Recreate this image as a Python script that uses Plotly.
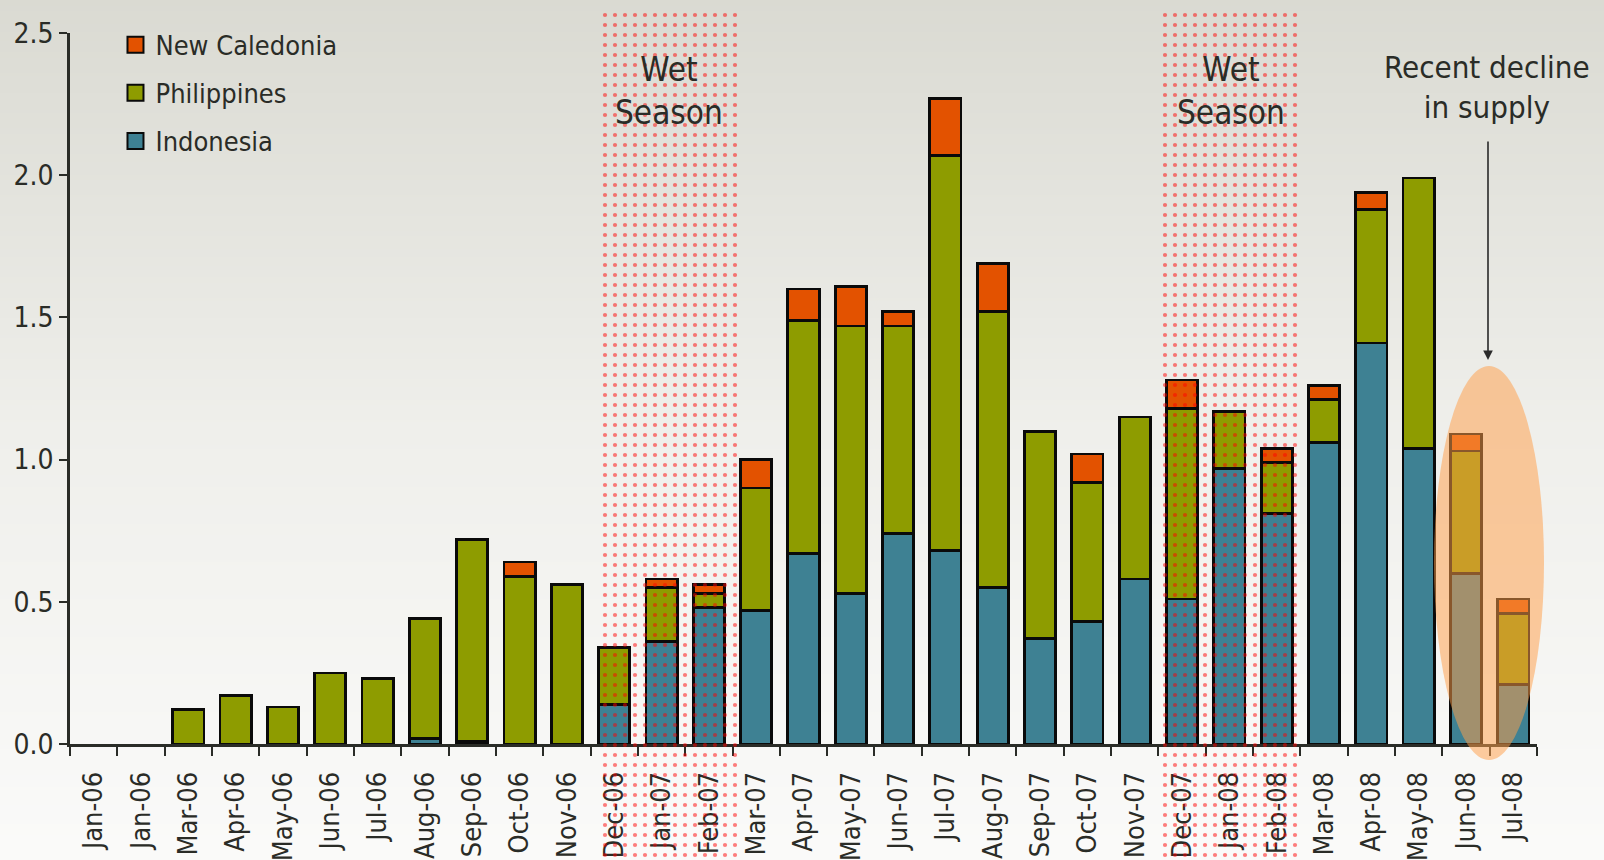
import plotly.graph_objects as go

# ---------------- data ----------------
months = ["Jan-06", "Jan-06", "Mar-06", "Apr-06", "May-06", "Jun-06", "Jul-06",
          "Aug-06", "Sep-06", "Oct-06", "Nov-06", "Dec-06", "Jan-07", "Feb-07",
          "Mar-07", "Apr-07", "May-07", "Jun-07", "Jul-07", "Aug-07", "Sep-07",
          "Oct-07", "Nov-07", "Dec-07", "Jan-08", "Feb-08", "Mar-08", "Apr-08",
          "May-08", "Jun-08", "Jul-08"]
indonesia = [0, 0, 0, 0, 0, 0, 0, 0.02, 0.01, 0, 0, 0.14, 0.36, 0.48,
             0.47, 0.67, 0.53, 0.74, 0.68, 0.55, 0.37, 0.43, 0.58, 0.51, 0.97, 0.81,
             1.06, 1.41, 1.04, 0.60, 0.21]
philippines = [0, 0, 0.12, 0.17, 0.13, 0.25, 0.23, 0.42, 0.71, 0.59, 0.56, 0.20, 0.19, 0.05,
               0.43, 0.82, 0.94, 0.73, 1.39, 0.97, 0.73, 0.49, 0.57, 0.67, 0.20, 0.18,
               0.15, 0.47, 0.95, 0.43, 0.25]
new_caledonia = [0, 0, 0, 0, 0, 0, 0, 0, 0, 0.05, 0, 0, 0.03, 0.03,
                 0.10, 0.11, 0.14, 0.05, 0.20, 0.17, 0, 0.10, 0, 0.10, 0, 0.05,
                 0.05, 0.06, 0, 0.06, 0.05]
y_ticks = [0.0, 0.5, 1.0, 1.5, 2.0, 2.5]
series_names = ["Indonesia", "Philippines", "New Caledonia"]
series_colors = ["#3e8193", "#8e9c00", "#e35200"]

# ---------------- layout geometry (pixels) ----------------
W, H = 1604, 860
PX_LEFT, PX_RIGHT = 70, 1537
PX_TOP, PX_ZERO = 33, 744
FONT = "DejaVu Sans Condensed, Liberation Sans Narrow, sans-serif"
TXT = "#2a2c27"

wet_boxes = [(601, 737), (1163, 1299)]
wet_top = 12
oval = (1434, 366, 1544, 760)

idx = list(range(len(months)))

fig = go.Figure()

# background gradient (full-page helper axes x/y)
fig.add_trace(go.Heatmap(
    x=[0, W], y=[-20, H * 0.5, H + 20],
    z=[[0, 0], [0.55, 0.55], [1, 1]],
    colorscale=[[0, "#d9d9d1"], [0.55, "#efefeb"], [1, "#fbfbfa"]],
    zsmooth="best", showscale=False, hoverinfo="skip",
    xaxis="x", yaxis="y"))

# stacked bars
for name, vals, col in zip(series_names, [indonesia, philippines, new_caledonia], series_colors):
    fig.add_trace(go.Bar(
        x=idx, y=[v if v else None for v in vals], name=name, width=0.66,
        marker=dict(color=col, line=dict(color="#0a0a0a", width=2.8)),
        xaxis="x2", yaxis="y2", showlegend=False))

# legend entries (bigger square swatches), top-to-bottom order
for name, col in reversed(list(zip(series_names, series_colors))):
    fig.add_trace(go.Scatter(
        x=[None], y=[None], mode="markers", name=name, legendgroup=name,
        marker=dict(symbol="square", size=16, color=col,
                    line=dict(color="#0a0a0a", width=2)),
        xaxis="x2", yaxis="y2", showlegend=True))

# wet season hatched boxes (overlay helper axes x3/y3)
for (a, b) in wet_boxes:
    fig.add_trace(go.Scatter(
        x=[a, b, b, a, a], y=[wet_top, wet_top, H, H, wet_top],
        mode="lines", line=dict(width=0), fill="toself",
        fillcolor="rgba(0,0,0,0)",
        fillpattern=dict(shape=".", fgcolor="#ff0000", bgcolor="rgba(0,0,0,0)",
                         size=10, solidity=0.14),
        hoverinfo="skip", showlegend=False, xaxis="x3", yaxis="y3"))

fig.add_shape(type="circle", xref="x3", yref="y3",
              x0=oval[0], y0=oval[1], x1=oval[2], y1=oval[3],
              fillcolor="rgba(255,160,75,0.52)", line=dict(width=0), layer="above")

ann = []
for (a, b) in wet_boxes:
    ann.append(dict(x=(a + b) / 2, y=91, xref="x3", yref="y3", text="Wet<br>Season",
                    showarrow=False, font=dict(family=FONT, size=33, color=TXT)))
ann.append(dict(x=1487, y=87, xref="x3", yref="y3", text="Recent decline<br>in supply",
                showarrow=False, font=dict(family=FONT, size=31, color=TXT)))
ann.append(dict(x=1488, y=360, ax=1488, ay=140, xref="x3", yref="y3", axref="x3", ayref="y3",
                text="", showarrow=True, arrowhead=2, arrowsize=1.2, arrowwidth=1.6,
                arrowcolor="#2a2a2a"))

hidden = dict(visible=False, showgrid=False, zeroline=False, fixedrange=True,
              automargin=False)

fig.update_layout(
    width=W, height=H, autosize=False,
    margin=dict(l=0, r=0, t=0, b=0, pad=0, autoexpand=False),
    paper_bgcolor="#f3f3f0", plot_bgcolor="rgba(0,0,0,0)",
    barmode="stack", bargap=0.3,
    font=dict(family=FONT, size=27, color=TXT),
    xaxis=dict(domain=[0, 1], range=[0, W], anchor="y", **hidden),
    yaxis=dict(domain=[0, 1], range=[H, 0], anchor="x", **hidden),
    xaxis3=dict(domain=[0, 1], range=[0, W], anchor="y3", **hidden),
    yaxis3=dict(domain=[0, 1], range=[H, 0], anchor="x3", **hidden),
    xaxis2=dict(domain=[PX_LEFT / W, PX_RIGHT / W], anchor="y2",
                range=[-0.5, len(months) - 0.5], automargin=False,
                tickmode="array", tickvals=idx, ticktext=months, tickangle=-90,
                ticks="", showline=True, linecolor="#2a2c27", linewidth=3,
                showgrid=False, zeroline=False, fixedrange=True,
                tickfont=dict(family=FONT, size=27, color=TXT),
                ticklabelstandoff=14,
                minor=dict(tickmode="linear", tick0=0.5, dtick=1, ticks="outside",
                           ticklen=9, tickwidth=2, tickcolor="#2a2c27")),
    yaxis2=dict(domain=[(H - PX_ZERO) / H, (H - PX_TOP) / H], anchor="x2",
                range=[0, 2.5], automargin=False, fixedrange=True,
                tickmode="array", tickvals=y_ticks,
                tickformat=".1f", ticks="outside", ticklen=8, tickwidth=2,
                tickcolor="#2a2c27", showline=True, linecolor="#2a2c27", linewidth=2.5,
                showgrid=False, zeroline=False,
                tickfont=dict(family=FONT, size=28, color=TXT)),
    legend=dict(x=0.072, y=0.976, xanchor="left", yanchor="top",
                traceorder="grouped", bgcolor="rgba(0,0,0,0)",
                font=dict(family=FONT, size=27, color=TXT),
                itemsizing="trace", tracegroupgap=10),
    annotations=ann,
    showlegend=True,
    hovermode=False,
)

post = ("var gd=document.getElementById('{plot_id}');"
        "document.documentElement.style.margin='0';"
        "document.body.style.margin='0';document.body.style.padding='0';"
        "document.body.style.overflow='hidden';"
        "gd.style.position='fixed';gd.style.left='0px';gd.style.top='0px';")

fig.write_html("out.html", post_script=post, config={"displayModeBar": False})
